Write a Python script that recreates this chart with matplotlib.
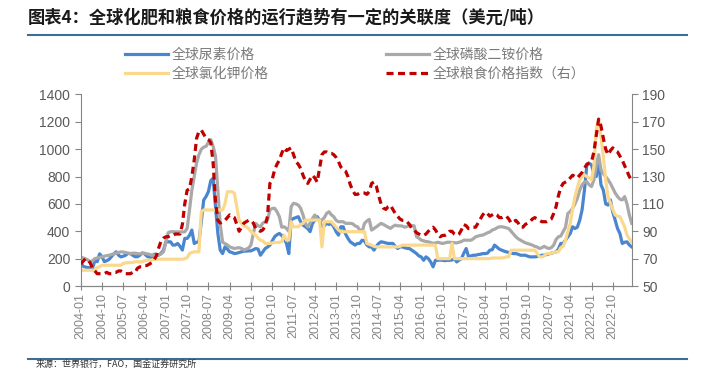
import numpy as np
import matplotlib
matplotlib.use('Agg')
import matplotlib.pyplot as plt

plt.rcParams['font.family'] = ['Liberation Sans', 'Noto Sans CJK SC', 'DejaVu Sans']

# monthly data, 2004-01 .. 2023-06
months = ['%d-%02d' % (2004 + k // 12, k % 12 + 1) for k in range(234)]

urea = [
    170, 145, 138, 135, 134, 132, 185, 178, 235, 215, 178, 185,
    195, 215, 235, 250, 225, 213, 218, 225, 238, 237, 225, 214,
    214, 225, 242, 235, 218, 210, 202, 232, 230, 226, 240, 262,
    323, 323, 323, 299, 300, 311, 290, 263, 348, 348, 370, 409,
    311, 320, 323, 470, 628, 654, 690, 770, 788, 580, 384, 262,
    237, 286, 270, 250, 245, 237, 240, 245, 250, 255, 255, 257,
    257, 265, 274, 270, 225, 250, 274, 285, 299, 330, 360, 375,
    384, 370, 348, 311, 237, 482, 494, 500, 507, 470, 445, 433,
    420, 397, 458, 480, 507, 480, 433, 440, 458, 450, 458, 433,
    397, 372, 433, 433, 380, 348, 323, 311, 299, 311, 311, 335,
    330, 300, 286, 286, 262, 290, 311, 323, 320, 315, 311, 311,
    311, 290, 274, 286, 286, 280, 275, 274, 262, 250, 237, 220,
    213, 188, 213, 200, 176, 140, 188, 188, 190, 188, 185, 188,
    188, 190, 200, 176, 190, 200, 240, 274, 213, 220, 225, 225,
    230, 232, 237, 237, 240, 262, 265, 299, 285, 270, 262, 255,
    250, 245, 240, 237, 237, 232, 225, 225, 225, 218, 213, 213,
    213, 215, 220, 225, 225, 230, 235, 240, 245, 250, 270, 311,
    311, 335, 360, 384, 433, 420, 430, 480, 556, 700, 880, 898,
    885, 820, 800, 911, 740, 700, 600, 592, 629, 540, 482, 420,
    384, 311, 320, 323, 300, 286,
]

dap = [
    214, 205, 200, 190, 178, 185, 200, 205, 210, 213, 218, 222,
    225, 230, 235, 240, 245, 250, 248, 245, 240, 237, 240, 240,
    237, 235, 238, 240, 235, 232, 225, 225, 224, 226, 235, 250,
    320, 390, 397, 397, 396, 396, 396, 396, 396, 420, 556, 700,
    800, 900, 960, 1000, 1015, 1021, 1050, 1070, 1021, 950, 700, 450,
    320, 310, 300, 286, 280, 274, 278, 280, 275, 263, 270, 278,
    300, 384, 458, 440, 433, 460, 470, 482, 556, 567, 568, 543,
    507, 430, 433, 421, 400, 580, 605, 600, 592, 568, 520, 458,
    433, 460, 494, 519, 490, 482, 482, 500, 531, 543, 520, 507,
    480, 470, 470, 470, 458, 458, 458, 455, 440, 433, 410, 397,
    458, 475, 487, 409, 420, 433, 445, 458, 450, 440, 430, 421,
    435, 445, 440, 440, 438, 430, 435, 445, 442, 440, 360, 350,
    335, 330, 325, 323, 318, 311, 315, 320, 315, 311, 315, 320,
    320, 318, 316, 315, 320, 325, 335, 335, 335, 335, 345, 360,
    365, 370, 372, 380, 389, 395, 409, 415, 425, 433, 433, 430,
    425, 420, 400, 379, 360, 345, 335, 325, 316, 310, 305, 299,
    290, 285, 274, 280, 290, 280, 274, 280, 299, 340, 360, 365,
    397, 430, 531, 545, 568, 600, 641, 700, 739, 760, 764, 740,
    727, 776, 880, 960, 849, 820, 800, 776, 750, 715, 680, 654,
    635, 629, 654, 600, 519, 458,
]

potash = [
    115, 115, 115, 115, 115, 115, 117, 135, 141, 152, 152, 152,
    152, 152, 152, 152, 152, 152, 165, 169, 170, 172, 172, 177,
    177, 177, 178, 185, 188, 190, 190, 196, 196, 196, 196, 196,
    196, 196, 196, 196, 196, 196, 196, 196, 200, 207, 237, 245,
    250, 250, 250, 542, 556, 556, 556, 556, 556, 556, 556, 556,
    556, 600, 689, 689, 689, 678, 580, 480, 458, 440, 433, 420,
    397, 385, 372, 350, 335, 330, 311, 311, 311, 315, 318, 318,
    320, 323, 372, 335, 335, 470, 433, 433, 433, 450, 458, 482,
    482, 482, 482, 482, 482, 482, 286, 470, 470, 470, 470, 450,
    430, 410, 397, 397, 397, 397, 397, 397, 397, 397, 397, 397,
    397, 311, 305, 299, 290, 286, 286, 286, 286, 286, 286, 286,
    286, 286, 286, 290, 299, 299, 299, 299, 299, 299, 299, 299,
    299, 299, 299, 299, 299, 299, 299, 200, 200, 200, 200, 200,
    200, 311, 200, 200, 200, 200, 200, 200, 200, 200, 200, 200,
    200, 200, 200, 200, 200, 200, 205, 205, 205, 205, 205, 207,
    213, 213, 262, 262, 262, 262, 262, 262, 262, 262, 262, 262,
    262, 240, 213, 213, 220, 237, 237, 240, 245, 250, 250, 280,
    290, 335, 400, 458, 560, 654, 720, 776, 800, 813, 800, 790,
    776, 874, 1143, 1217, 1094, 947, 776, 650, 605, 560, 519, 510,
    507, 470, 433, 372, 345, 323,
]

food_index = [
    66, 68, 70, 69, 67, 63, 61, 59, 59, 59, 59, 60,
    59, 59, 60, 60, 61, 61, 60, 59, 59, 59, 60, 60,
    63, 64, 64, 65, 65, 66, 67, 69, 72, 78, 83, 85,
    86, 86, 87, 87, 88, 88, 88, 95, 110, 120, 121, 130,
    142, 158, 163, 164, 161, 158, 157, 155, 140, 112, 98, 96,
    97, 98, 100, 102, 101, 100, 95, 90, 93, 96, 97, 98,
    98, 96, 92, 91, 90, 91, 94, 101, 125, 128, 135, 139,
    142, 147, 151, 149, 150, 151, 146, 141, 139, 136, 131, 127,
    125, 128, 131, 129, 126, 136, 146, 148, 148, 147, 147, 146,
    144, 141, 137, 135, 134, 130, 124, 120, 117, 117, 118, 118,
    118, 117, 119, 125, 126, 123, 116, 110, 107, 106, 108, 109,
    106, 103, 101, 99, 98, 98, 97, 95, 92, 91, 89, 88,
    87, 87, 88, 90, 92, 93, 91, 88, 86, 87, 87, 88,
    90, 90, 88, 87, 88, 91, 95, 94, 92, 92, 93, 93,
    96, 99, 102, 104, 103, 101, 102, 103, 102, 100, 100, 101,
    101, 99, 96, 97, 98, 96, 93, 93, 95, 96, 97, 99,
    100, 99, 98, 97, 97, 97, 98, 99, 103, 108, 116, 122,
    125, 126, 127, 129, 131, 130, 129, 131, 133, 136, 139, 140,
    141, 148, 160, 172, 167, 158, 150, 146, 149, 151, 149, 148,
    145, 142, 138, 134, 130, 127,
]

labels = ['全球尿素价格', '全球磷酸二铵价格', '全球氯化钾价格', '全球粮食价格指数（右）']
title = '图表4：全球化肥和粮食价格的运行趋势有一定的关联度（美元/吨）'
source = '来源：世界银行，FAO，国金证券研究所'

x = np.arange(len(months))
axis_col = '#868686'
text_col = '#595959'

fig = plt.figure(figsize=(7.11, 3.70), dpi=100)
ax = fig.add_axes([0.1135, 0.227, 0.775, 0.5176])
ax2 = ax.twinx()

l1, = ax.plot(x, urea, color='#4a86cf', lw=2.3)
l2, = ax.plot(x, dap, color='#a9a9a9', lw=2.3)
l3, = ax.plot(x, potash, color='#fbd98c', lw=2.3)
l4, = ax2.plot(x, food_index, color='#c00000', lw=2.3, dashes=(2.2, 1.4))

ax.set_xlim(0, len(months) - 1)
ax.set_ylim(0, 1400)
ax.set_yticks(range(0, 1401, 200))
ax2.set_ylim(50, 190)
ax2.set_yticks(range(50, 191, 20))
ax.set_xticks(x[::9])
ax.set_xticklabels(months[::9], rotation=90, fontsize=9, color=text_col)

for a in (ax, ax2):
    for s in a.spines.values():
        s.set_color(axis_col)
    a.spines['top'].set_visible(False)
ax.spines['right'].set_visible(False)
ax2.spines['left'].set_visible(False)

ax.tick_params(axis='y', colors=axis_col, labelcolor=text_col, labelsize=10, length=4)
ax2.tick_params(axis='y', colors=axis_col, labelcolor=text_col, labelsize=10, length=4)
ax.tick_params(axis='x', colors=axis_col, direction='inout', length=6, pad=2)

fig.legend([l1, l3, l2, l4], [labels[0], labels[2], labels[1], labels[3]],
           ncol=2, loc='upper left', bbox_to_anchor=(0.158, 0.905),
           frameon=False, labelcolor='#7a7a7a',
           handlelength=3.1, handletextpad=0.3, columnspacing=8.4,
           labelspacing=0.38, prop={'family': 'Noto Sans CJK SC', 'size': 10})

fig.text(0.039, 0.951, title, fontsize=12.4, fontweight='bold', color='#1a1a1a',
         family='Noto Sans CJK SC', va='center')
fig.add_artist(plt.Line2D([0.039, 0.966], [0.905, 0.905], color='#3d6f94', lw=1.5))
fig.add_artist(plt.Line2D([0.039, 0.966], [0.03, 0.03], color='#3d6f94', lw=1.5))
fig.text(0.05, 0.002, source, fontsize=6.5, color='#333333',
         family='Noto Sans CJK SC', va='bottom')

fig.savefig('out.png', dpi=100)
